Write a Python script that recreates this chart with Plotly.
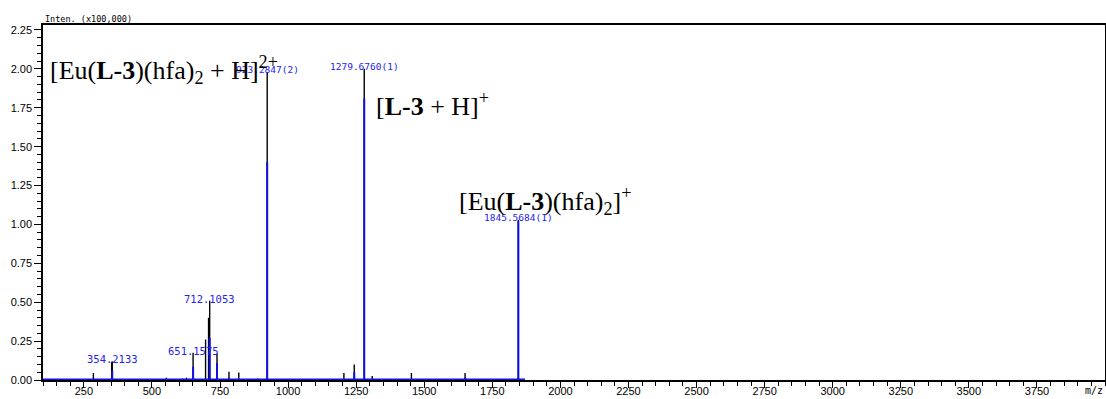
import plotly.graph_objects as go

# Profile (black) peaks: m/z and intensity (x100,000)
black_mz = [285.0, 352.2, 354.2, 553.0, 612.0, 627.0, 651.2, 697.0, 708.0, 712.1, 739.0,
            783.0, 819.0, 889.0, 923.3, 1205.0, 1243.0, 1279.7, 1309.0, 1453.0, 1650.0, 1845.6]
black_int = [0.045, 0.115, 0.12, 0.015, 0.01, 0.015, 0.175, 0.26, 0.40, 0.51, 0.17,
             0.053, 0.048, 0.01, 1.98, 0.045, 0.10, 2.00, 0.025, 0.045, 0.045, 1.03]

# Centroid (blue) peaks
blue_mz = [354.2, 651.2, 712.1, 739.0, 783.0, 923.3, 1243.0, 1279.7, 1650.0, 1845.6]
blue_int = [0.06, 0.085, 0.27, 0.11, 0.015, 1.40, 0.05, 1.81, 0.015, 1.02]

# Blue baseline extent
base_mz = [100, 1870]
base_int = [0.0, 0.0]

# Peak labels
lab_mz = [354.2133, 651.1575, 712.1053, 923.2847, 1279.6760, 1845.5684]
lab_int = [0.12, 0.175, 0.51, 1.98, 2.00, 1.03]
lab_text = ["354.2133", "651.1575", "712.1053", "923.2847(2)", "1279.6760(1)", "1845.5684(1)"]
lab_font = [10.5, 10.5, 10.5, 9.5, 9.5, 9.5]

x_ticks = [250, 500, 750, 1000, 1250, 1500, 1750, 2000, 2250, 2500, 2750, 3000, 3250, 3500, 3750]
y_ticks = [0.0, 0.25, 0.5, 0.75, 1.0, 1.25, 1.5, 1.75, 2.0, 2.25]


def sticks(xs, ys):
    X, Y = [], []
    for a, b in zip(xs, ys):
        X += [a, a, None]
        Y += [0, b, None]
    return X, Y


fig = go.Figure()
bx, by = sticks(black_mz, black_int)
fig.add_trace(go.Scatter(x=bx, y=by, mode="lines", line=dict(color="black", width=1.4),
                         hoverinfo="skip", showlegend=False))
fig.add_trace(go.Scatter(x=base_mz, y=base_int, mode="lines", line=dict(color="#1010e8", width=3),
                         hoverinfo="skip", showlegend=False))
cx, cy = sticks(blue_mz, blue_int)
fig.add_trace(go.Scatter(x=cx, y=cy, mode="lines", line=dict(color="#1010e8", width=2),
                         hoverinfo="skip", showlegend=False))

for m, h, t, fs in zip(lab_mz, lab_int, lab_text, lab_font):
    fig.add_annotation(x=m, y=h, text=t, showarrow=False, xanchor="center", yanchor="middle",
                       yshift=2, font=dict(family="DejaVu Sans Mono", size=fs, color="#2323f0"))

serif = dict(family="Liberation Serif", size=26, color="black")
fig.add_annotation(xref="paper", yref="y", x=0.0045, y=1.99, xanchor="left", yanchor="middle",
                   text="[Eu(<b>L-3</b>)(hfa)<sub>2</sub> + H]<sup>2+</sup>", showarrow=False, font=serif)
fig.add_annotation(xref="paper", yref="y", x=0.312, y=1.77, xanchor="left", yanchor="middle",
                   text="[<b>L-3</b> + H]<sup>+</sup>", showarrow=False, font=serif)
fig.add_annotation(xref="paper", yref="y", x=0.39, y=1.15, xanchor="left", yanchor="middle",
                   text="[Eu(<b>L-3</b>)(hfa)<sub>2</sub>]<sup>+</sup>", showarrow=False, font=serif)

fig.add_annotation(xref="paper", yref="paper", x=0.0, y=1.0, xanchor="left", yanchor="bottom",
                   text="Inten. (x100,000)", showarrow=False, yshift=-1,
                   font=dict(family="DejaVu Sans Mono", size=8.5, color="black"))
fig.add_annotation(xref="paper", yref="paper", x=1.0, y=0.0, xanchor="right", yanchor="top",
                   text="m/z", showarrow=False, yshift=-3, xshift=0,
                   font=dict(family="DejaVu Sans Mono", size=10, color="black"))

tickfont = dict(family="Liberation Sans", size=11, color="black")
fig.update_xaxes(range=[100, 4000], tickmode="array", tickvals=x_ticks, automargin=False,
                 ticks="outside", ticklen=6, tickwidth=1, tickcolor="black",
                 ticklabelstandoff=-6,
                 minor=dict(dtick=50, tick0=0, ticks="outside", ticklen=4, tickcolor="black"),
                 showline=True, linecolor="black", linewidth=1.5, mirror=True,
                 showgrid=False, zeroline=False, tickfont=tickfont)
fig.update_yaxes(range=[0, 2.282], tickmode="array", tickvals=y_ticks, tickformat=".2f",
                 automargin=False,
                 ticks="outside", ticklen=7, tickwidth=1, tickcolor="black",
                 minor=dict(dtick=0.05, tick0=0, ticks="outside", ticklen=4, tickcolor="black"),
                 showline=True, linecolor="black", linewidth=1.5, mirror=True,
                 showgrid=False, zeroline=False, tickfont=tickfont)

fig.update_layout(width=1106, height=399, margin=dict(l=43, r=1, t=25, b=19),
                  plot_bgcolor="white", paper_bgcolor="white", showlegend=False)

fig.write_html("out.html", config={"displayModeBar": False},
               post_script="document.body.style.margin='0';document.body.style.overflow='hidden';")
